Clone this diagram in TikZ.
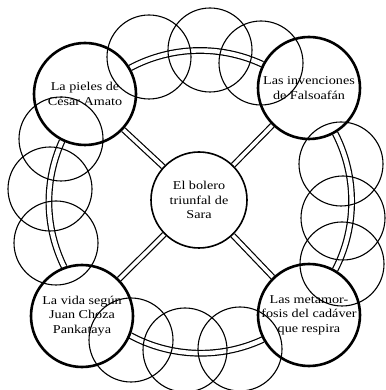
\documentclass[tikz,border=0pt]{standalone}
\usepackage{fontspec}
\setmainfont{Liberation Serif}[FakeStretch=1.18]
\pgfdeclarelayer{bg}
\pgfsetlayers{bg,main}
\begin{document}
\begin{tikzpicture}[x=1pt,y=1pt,
  txt/.style={align=center, font=\fontsize{12}{14.5}\selectfont},
  big/.style={circle, draw, line width=2.6pt, fill=white, minimum size=102pt, inner sep=-6pt, txt},
  hub/.style={circle, draw, line width=1.6pt, fill=white, minimum size=96pt, inner sep=-6pt, txt},
  spoke/.style={draw=black, double=white, line width=1.2pt, double distance=3.6pt},
  ringarc/.style={draw=black, double=white, line width=1.2pt, double distance=4.4pt},
  smallring/.style={line width=1.1pt}]
\useasboundingbox (0,0) rectangle (385,390);
\node[hub] (c) at (199,190) {El bolero\\triunfal de\\Sara};
\node[big] (tl) at (85,296) {La pieles de\\César Amato};
\node[big] (tr) at (309,302) {Las invenciones\\de Falsoafán};
\node[big] (bl) at (82,74) {La vida según\\Juan Choza\\Pankataya};
\node[big] (br) at (309,75) {Las metamor-\\fosis del cadáver\\que respira};
\begin{pgfonlayer}{bg}
\draw[spoke] (c) -- (tl);
\draw[spoke] (c) -- (tr);
\draw[spoke] (c) -- (bl);
\draw[spoke] (c) -- (br);
\draw[ringarc] (tl.30) to[bend left=26.4, looseness=0.9] (tr.153);
\draw[ringarc] (tr.300) to[bend left=27.3, looseness=0.9] (br.60);
\draw[ringarc] (br.208) to[bend left=26.5, looseness=0.9] (bl.-22);
\draw[ringarc] (bl.110) to[bend left=25.2, looseness=0.9] (tl.244);
\end{pgfonlayer}
% thin circles along the ring
\draw[smallring] (149,333) circle[radius=42];
\draw[smallring] (210,340) circle[radius=42];
\draw[smallring] (261,327) circle[radius=42];
\draw[smallring] (61,251) circle[radius=42];
\draw[smallring] (50,201) circle[radius=42];
\draw[smallring] (56,147) circle[radius=42];
\draw[smallring] (341,226) circle[radius=42];
\draw[smallring] (343,172) circle[radius=42];
\draw[smallring] (342,126) circle[radius=42];
\draw[smallring] (131,50) circle[radius=42];
\draw[smallring] (185,40) circle[radius=42];
\draw[smallring] (240,41) circle[radius=42];
\end{tikzpicture}
\end{document}
